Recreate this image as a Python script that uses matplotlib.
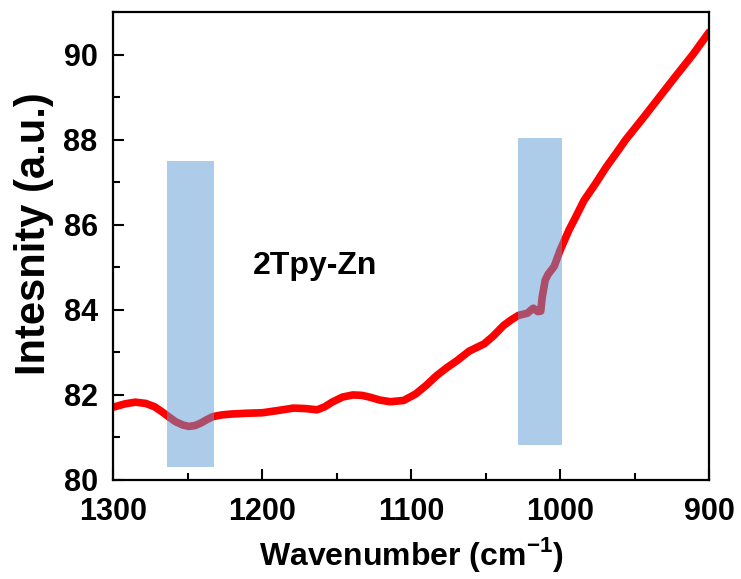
import numpy as np
import matplotlib.pyplot as plt
from matplotlib.ticker import MultipleLocator

plt.rcParams['font.family'] = ['Liberation Sans', 'DejaVu Sans']
plt.rcParams['font.weight'] = 'bold'
plt.rcParams['mathtext.fontset'] = 'custom'
plt.rcParams['mathtext.rm'] = 'Liberation Sans:bold'
plt.rcParams['mathtext.bf'] = 'Liberation Sans:bold'

# FTIR trace of 2Tpy-Zn
wavenumber = [1300, 1292, 1285, 1278, 1272, 1267, 1262, 1258, 1253, 1249, 1245, 1241,
              1237, 1233, 1227, 1221, 1210, 1200, 1190, 1179, 1171, 1163, 1158, 1153,
              1146, 1139, 1133, 1128, 1121, 1114, 1105, 1097, 1090, 1083, 1076, 1069,
              1061, 1051, 1045, 1038, 1033, 1028, 1022, 1018, 1015, 1013, 1012, 1010,
              1008, 1004, 1000, 994, 990, 984, 976, 969, 962, 956, 945, 935,
              923, 911, 900]
intensity = [81.71, 81.79, 81.83, 81.80, 81.72, 81.60, 81.47, 81.37, 81.29, 81.26, 81.28, 81.34,
             81.42, 81.49, 81.53, 81.55, 81.57, 81.58, 81.63, 81.69, 81.68, 81.65, 81.72, 81.83,
             81.95, 82.00, 81.99, 81.95, 81.88, 81.84, 81.87, 82.02, 82.22, 82.45, 82.64, 82.81,
             83.03, 83.20, 83.38, 83.63, 83.76, 83.87, 83.92, 84.04, 83.96, 83.97, 84.30, 84.70,
             84.84, 85.02, 85.40, 85.88, 86.15, 86.57, 86.98, 87.36, 87.70, 88.00, 88.48, 88.93,
             89.47, 90.00, 90.53]

# highlighted bands: (high wavenumber, low wavenumber), (bottom, top)
band_x = [(1264, 1232), (1028, 999)]
band_y = [(80.31, 87.5), (80.83, 88.04)]

fig = plt.figure(figsize=(7.41, 5.79), dpi=100)
ax = fig.add_axes([0.1525, 0.171, 0.8045, 0.808])

ax.plot(wavenumber, intensity, color='red', lw=5.5, solid_capstyle='round',
        solid_joinstyle='round', zorder=2)

for (x1, x0), (y0, y1) in zip(band_x, band_y):
    ax.fill_between([x0, x1], y0, y1, color='#5b9bd5', alpha=0.5, lw=0, zorder=3)

ax.text(1206, 84.85, '2Tpy-Zn', fontsize=23, fontweight='bold', va='baseline', ha='left')

ax.set_xlim(1300, 900)
ax.set_ylim(80, 91)
ax.xaxis.set_major_locator(MultipleLocator(100))
ax.xaxis.set_minor_locator(MultipleLocator(50))
ax.yaxis.set_major_locator(MultipleLocator(2))
ax.yaxis.set_minor_locator(MultipleLocator(1))
ax.tick_params(which='both', direction='in', width=1.5, labelsize=22)
ax.tick_params(which='major', length=8)
ax.tick_params(which='minor', length=5)
ax.tick_params(axis='y', pad=11)
ax.tick_params(axis='x', pad=12)
for s in ax.spines.values():
    s.set_linewidth(1.6)

ax.set_xlabel('Wavenumber (cm$^{-1}$)', fontsize=23, fontweight='bold')
ax.set_ylabel('Intesnity (a.u.)', fontsize=30, fontweight='bold')
ax.xaxis.set_label_coords(0.5, -0.118)
ax.yaxis.set_label_coords(-0.099, 0.526)

fig.savefig('out.png', dpi=100)
